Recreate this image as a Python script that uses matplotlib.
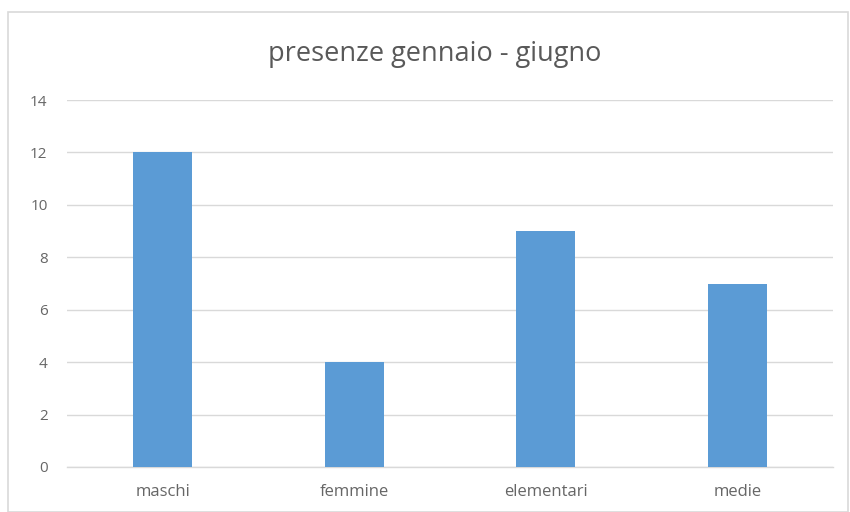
import matplotlib
matplotlib.use("Agg")
import matplotlib.pyplot as plt
from matplotlib.patches import Rectangle

categories = ["maschi", "femmine", "elementari", "medie"]
values = [12, 4, 9, 7]
yticks = [0, 2, 4, 6, 8, 10, 12, 14]
title = "presenze gennaio - giugno"

plt.rcParams['font.family'] = ['Open Sans', 'DejaVu Sans']

W, H = 850, 512
fig = plt.figure(figsize=(W/100, H/100), dpi=100)
fig.patch.set_facecolor("white")

# chart border
fig.patches.append(Rectangle((8/W, 0), (848-8)/W, (H-12)/H, transform=fig.transFigure,
                             fill=False, edgecolor="#D9D9D9", linewidth=1.2))

ax = fig.add_axes([67/W, (H-467)/H, (833-67)/W, (467-100)/H])
x = list(range(len(categories)))
ax.bar(x, values, width=0.31, color="#5B9BD5", zorder=3)
ax.set_xlim(-0.5, len(categories)-0.5)
ax.set_ylim(0, 14)
ax.set_yticks(yticks)
ax.set_xticks(x)
ax.set_xticklabels(categories, fontsize=12)
ax.grid(axis="y", color="#D9D9D9", linewidth=1, zorder=0)
for s in ["top", "right", "left"]:
    ax.spines[s].set_visible(False)
ax.spines["bottom"].set_color("#D9D9D9")
ax.spines["bottom"].set_linewidth(1)
ax.tick_params(axis="both", length=0, colors="#666666")
ax.tick_params(axis="y", pad=14, labelsize=11)
ax.tick_params(axis="x", pad=12)

fig.text(435/W, (H-54)/H, title, ha="center", va="center", fontsize=19.5, color="#595959")

fig.savefig("out.png", dpi=100)
